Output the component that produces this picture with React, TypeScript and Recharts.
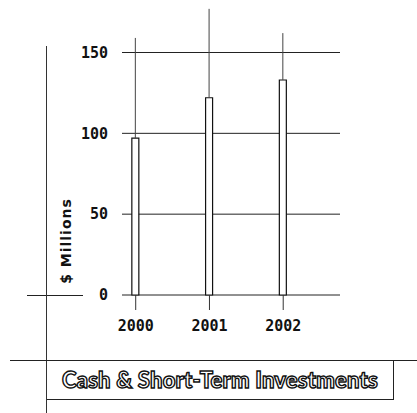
import { ComposedChart, Bar, XAxis, YAxis, CartesianGrid } from "recharts";

const years = [2000, 2001, 2002];
const cash = [97, 122, 133];
// top of the thin guide line drawn above each bar
const guideTop = [159, 177, 162];
const yTicks = [0, 50, 100, 150];

const data = years.map((year, i) => ({
  year,
  cash: cash[i],
  guide: guideTop[i] - cash[i],
}));

const monoTick = {
  fill: "#111",
  fontSize: 15,
  fontWeight: 600,
  fontFamily: "DejaVu Sans Mono",
};

function GuideLine(props: any) {
  const { x, y, width, height } = props;
  const cx = x + width / 2;
  return <line x1={cx} x2={cx} y1={y} y2={y + height} stroke="#444" strokeWidth={1} />;
}

export default function App() {
  return (
    <div
      style={{
        position: "absolute",
        left: 0,
        top: 0,
        width: 417,
        height: 413,
        background: "#fff",
        overflow: "hidden",
      }}
    >
      <ComposedChart
        width={417}
        height={413}
        data={data}
        margin={{ top: 4, right: 77, left: 0, bottom: 0 }}
      >
        <CartesianGrid vertical={false} horizontalValues={yTicks} stroke="#222" />
        <XAxis
          dataKey="year"
          type="number"
          domain={[1999.814, 2002.77]}
          ticks={years}
          allowDataOverflow
          height={118}
          axisLine={false}
          tickSize={15}
          tickLine={{ stroke: "#333" }}
          tickMargin={10}
          tick={monoTick}
        />
        <YAxis
          domain={[0, 180]}
          ticks={yTicks}
          width={122}
          axisLine={false}
          tickLine={false}
          tickSize={0}
          tickMargin={14}
          tick={monoTick}
        />
        <Bar
          dataKey="cash"
          stackId="a"
          barSize={7}
          fill="#fff"
          stroke="#111"
          strokeWidth={1.2}
          isAnimationActive={false}
        />
        <Bar
          dataKey="guide"
          stackId="a"
          barSize={7}
          shape={GuideLine}
          isAnimationActive={false}
        />
      </ComposedChart>

      {/* page frame lines from the scanned report */}
      <div style={{ position: "absolute", left: 27, top: 295, width: 56, height: 1, background: "#222" }} />
      <div style={{ position: "absolute", left: 46, top: 46, width: 1, height: 367, background: "#333" }} />
      <div style={{ position: "absolute", left: 10, top: 360, width: 407, height: 1, background: "#222" }} />

      <div
        style={{
          position: "absolute",
          left: 66,
          top: 241,
          transform: "translate(-50%, -50%) rotate(-90deg)",
          whiteSpace: "nowrap",
          fontFamily: "DejaVu Sans",
          fontWeight: 600,
          fontSize: 14,
          letterSpacing: 1,
          color: "#111",
        }}
      >
        $ Millions
      </div>

      <div
        style={{
          position: "absolute",
          left: 47,
          top: 360,
          width: 346,
          height: 39,
          borderRight: "1.5px solid #222",
          borderBottom: "1.5px solid #222",
          display: "flex",
          alignItems: "center",
          justifyContent: "center",
          fontFamily: "Lato",
          fontWeight: 900,
          fontSize: 22,
          letterSpacing: 0.2,
          color: "#fff",
          WebkitTextStroke: "1.4px #111",
          whiteSpace: "nowrap",
        }}
      >
        Cash &amp; Short-Term Investments
      </div>
    </div>
  );
}
